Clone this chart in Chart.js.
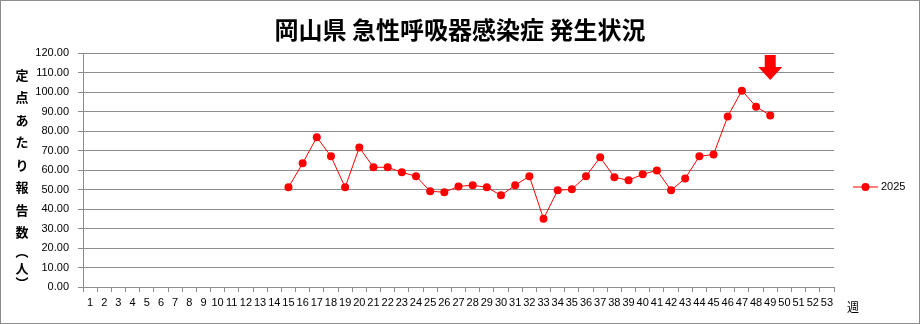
<!DOCTYPE html>
<html>
<head>
  <meta charset="utf-8" />
  <title>岡山県 急性呼吸器感染症 発生状況</title>
  <script src="https://cdn.jsdelivr.net/npm/chart.js"></script>
  <style>
    body { margin: 0; background: white; }
    #wrap { width: 920px; height: 324px; position: relative; }
  </style>
</head>
<body>
  <div id="wrap"><canvas id="chart"></canvas></div>
  <script>
    const weeks = ['1','2','3','4','5','6','7','8','9','10','11','12','13','14','15','16','17','18',
      '19','20','21','22','23','24','25','26','27','28','29','30','31','32','33','34','35','36',
      '37','38','39','40','41','42','43','44','45','46','47','48','49','50','51','52','53'];
    const cases2025 = [null, null, null, null, null, null, null, null, null, null, null, null, null, null,
      51.1, 63.4, 76.8, 67.0, 51.1, 71.6, 61.4, 61.4, 58.8, 56.8, 49.1, 48.6, 51.6, 52.2, 51.1,
      47.0, 52.2, 56.8, 35.0, 49.6, 50.1, 56.8, 66.5, 56.3, 54.7, 57.8, 59.8, 49.6, 55.7, 67.0,
      68.0, 87.5, 100.7, 92.5, 88.0, null, null, null, null];
    const yTicks = [0, 120, 10]; // min, max, step
    const latestWeek = '49';

    const title = '岡山県 急性呼吸器感染症 発生状況';
    const yTitleChars = ['定', '点', 'あ', 'た', 'り', '報', '告', '数', '︵', '人', '︶'];
    const seriesName = '2025';
    const RED = '#ff0000';
    const GRID = '#8c8c8c';
    const JP = '"Noto Sans CJK JP", sans-serif';

    // title, vertical y label, legend, arrow, frame
    const extras = {
      id: 'extras',
      afterDraw(chart) {
        const ctx = chart.ctx;
        const x = chart.scales.x, y = chart.scales.y;
        ctx.save();
        ctx.fillStyle = '#000';
        ctx.textAlign = 'center';
        ctx.textBaseline = 'middle';
        ctx.font = 'bold 24px ' + JP;
        ctx.fillText(title, 460, 30);

        ctx.font = 'bold 13px ' + JP;
        const ys = [75, 97.5, 120, 142.5, 165, 187.5, 210, 232.5, 251, 268, 283];
        yTitleChars.forEach((c, i) => ctx.fillText(c, 22, ys[i]));

        ctx.font = '12px ' + JP;
        ctx.fillText('週', 853, 307);

        // legend
        const ly = 187;
        ctx.strokeStyle = RED;
        ctx.lineWidth = 1;
        ctx.beginPath();
        ctx.moveTo(853, ly); ctx.lineTo(878, ly); ctx.stroke();
        ctx.fillStyle = RED;
        ctx.beginPath(); ctx.arc(865.5, ly, 4, 0, Math.PI * 2); ctx.fill();
        ctx.fillStyle = '#000';
        ctx.textAlign = 'left';
        ctx.font = '11px "Liberation Sans", sans-serif';
        ctx.fillText(seriesName, 881, ly);

        // arrow above latest week
        const ax = x.getPixelForValue(weeks.indexOf(latestWeek));
        const top = chart.chartArea.top + 2;
        ctx.fillStyle = RED;
        ctx.beginPath();
        ctx.moveTo(ax - 5.5, top);
        ctx.lineTo(ax + 5.5, top);
        ctx.lineTo(ax + 5.5, top + 12);
        ctx.lineTo(ax + 12, top + 12);
        ctx.lineTo(ax, top + 25);
        ctx.lineTo(ax - 12, top + 12);
        ctx.lineTo(ax - 5.5, top + 12);
        ctx.closePath();
        ctx.fill();

        ctx.strokeStyle = '#8c8c8c';
        ctx.strokeRect(0.5, 0.5, 919, 323);
        ctx.restore();
      }
    };

    new Chart(document.getElementById('chart'), {
      type: 'line',
      data: {
        labels: weeks,
        datasets: [{
          label: seriesName,
          data: cases2025,
          borderColor: RED,
          backgroundColor: RED,
          borderWidth: 1,
          pointRadius: 4,
          pointBorderWidth: 0,
          pointBackgroundColor: RED,
          tension: 0,
          spanGaps: false
        }]
      },
      options: {
        responsive: true,
        maintainAspectRatio: false,
        animation: false,
        layout: { padding: { left: 0, right: 86, top: 53, bottom: 0 } },
        plugins: { legend: { display: false }, tooltip: { enabled: false } },
        scales: {
          x: {
            offset: true,
            afterFit(s) { s.height = 37; },
            grid: { offset: true, drawOnChartArea: false, drawTicks: true, tickLength: 5, color: GRID },
            border: { color: GRID },
            ticks: {
              autoSkip: false, maxRotation: 0, padding: 4, color: '#000',
              font: { family: '"Liberation Sans", sans-serif', size: 11 }
            }
          },
          y: {
            min: yTicks[0], max: yTicks[1],
            afterFit(s) { s.width = 83; },
            grid: { color: GRID, tickLength: 5 },
            border: { color: GRID },
            ticks: {
              stepSize: yTicks[2], padding: 9, color: '#000',
              font: { family: '"Liberation Sans", sans-serif', size: 11 },
              callback: v => v.toFixed(2)
            }
          }
        }
      },
      plugins: [extras]
    });
  </script>
</body>
</html>
